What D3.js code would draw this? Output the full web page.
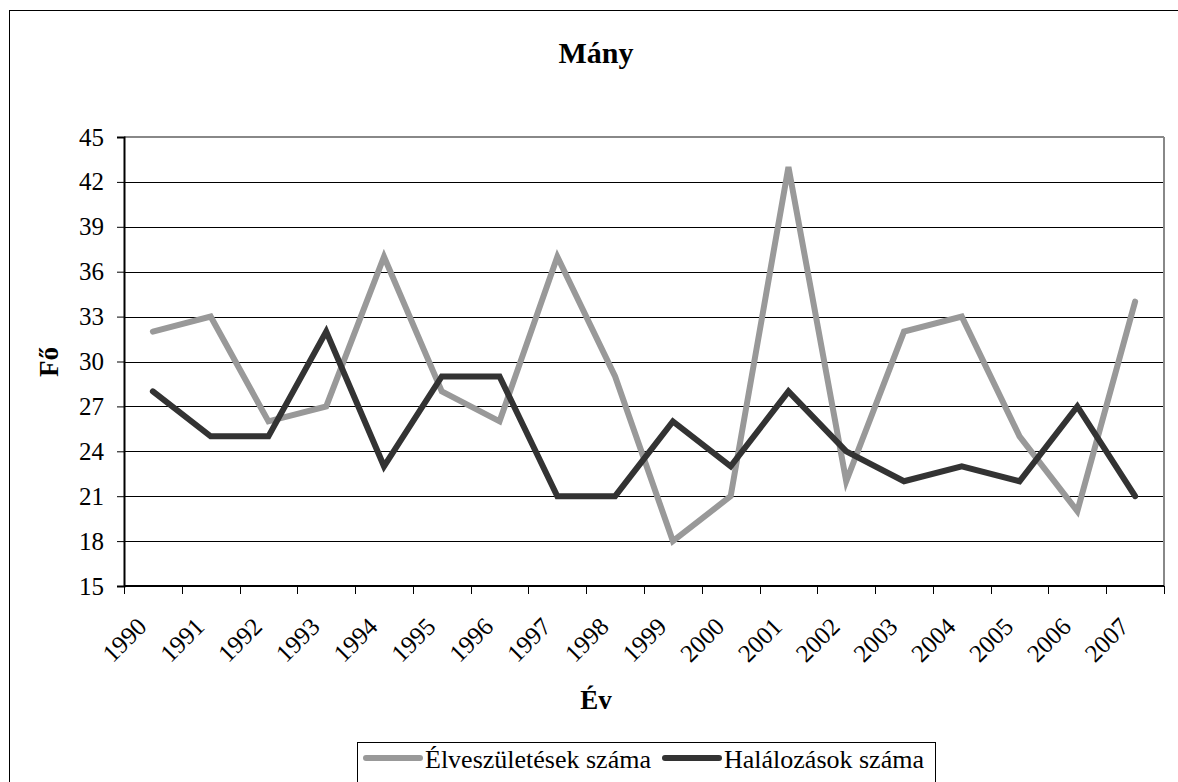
<!DOCTYPE html>
<html><head><meta charset="utf-8">
<script src="https://cdn.jsdelivr.net/npm/d3@7"></script>
<style>body{margin:0;background:#fff}svg{display:block}</style>
</head><body>
<svg id="c" width="1178" height="782"></svg>
<script>
const years = ["1990","1991","1992","1993","1994","1995","1996","1997","1998","1999","2000","2001","2002","2003","2004","2005","2006","2007"];
const births = [32,33,26,27,37,28,26,37,29,18,21,43,22,32,33,25,20,34];
const deaths = [28,25,25,32,23,29,29,21,21,26,23,28,24,22,23,22,27,21];
const yTicks = [15,18,21,24,27,30,33,36,39,42,45];
const seriesNames = ["Élveszületések száma","Halálozások száma"];
const seriesColors = ["#999999","#333333"];

const FONT = "Liberation Serif";
const svg = d3.select("#c");
const L=124, R=1164, T=137, B=586;
svg.append("rect").attr("x",9.5).attr("y",10.5).attr("width",1200).attr("height",800).attr("fill","none").attr("stroke","#000").attr("stroke-width",1);

const x = d3.scaleBand().domain(years).range([L,R]).padding(0);
const y = d3.scaleLinear().domain([15,45]).range([B,T]);

svg.append("g").selectAll("line").data(yTicks.slice(1,-1)).join("line")
  .attr("x1",L).attr("x2",R).attr("y1",d=>Math.round(y(d))+0.5).attr("y2",d=>Math.round(y(d))+0.5)
  .attr("stroke","#000").attr("stroke-width",1);
svg.append("line").attr("x1",L).attr("x2",R).attr("y1",T).attr("y2",T).attr("stroke","#888").attr("stroke-width",2);
svg.append("line").attr("x1",R).attr("x2",R).attr("y1",T).attr("y2",B).attr("stroke","#888").attr("stroke-width",2);

const ya = svg.append("g").attr("transform",`translate(${L},0)`)
  .call(d3.axisLeft(y).tickValues(yTicks).tickSize(7).tickPadding(13));
ya.attr("font-family",FONT);
ya.select(".domain").attr("stroke","#000").attr("stroke-width",2);
ya.selectAll(".tick line").attr("stroke","#000");
ya.selectAll("text").attr("font-size",25).attr("fill","#000").attr("font-family",FONT);

const xa = svg.append("g").attr("transform",`translate(0,${B})`);
xa.append("line").attr("x1",L).attr("x2",R).attr("y1",0).attr("y2",0).attr("stroke","#000").attr("stroke-width",2);
const bounds = years.map(d=>x(d)).concat([R]);
xa.selectAll("line.t").data(bounds).join("line").attr("class","t")
  .attr("x1",d=>Math.round(d)+0.5).attr("x2",d=>Math.round(d)+0.5).attr("y1",0).attr("y2",8).attr("stroke","#000");
xa.selectAll("text").data(years).join("text")
  .attr("transform",d=>`translate(${x(d)+x.bandwidth()/2-11},${36}) rotate(-45)`)
  .attr("text-anchor","end").attr("dy","0.35em").attr("font-size",25).attr("font-family",FONT).text(d=>d);

const line = d3.line().x((d,i)=>x(years[i])+x.bandwidth()/2).y(d=>y(d));
[births,deaths].forEach((s,k)=>{
  svg.append("path").datum(s).attr("d",line).attr("fill","none")
    .attr("stroke",seriesColors[k]).attr("stroke-width",6).attr("stroke-linejoin","miter").attr("stroke-linecap","round");
});

svg.append("text").attr("x",596).attr("y",63).attr("text-anchor","middle").attr("font-size",30).attr("font-weight","bold").attr("font-family",FONT).text("Mány");
svg.append("text").attr("transform","translate(58,362) rotate(-90)").attr("text-anchor","middle").attr("font-size",27).attr("font-weight","bold").attr("font-family",FONT).text("Fő");
svg.append("text").attr("x",596).attr("y",709).attr("text-anchor","middle").attr("font-size",27).attr("font-weight","bold").attr("font-family",FONT).text("Év");

const lg = svg.append("g");
lg.append("rect").attr("x",357.5).attr("y",742.5).attr("width",578).attr("height",60).attr("fill","#fff").attr("stroke","#000");
const legX = [363, 662];
seriesNames.forEach((n,k)=>{
  lg.append("line").attr("x1",legX[k]+3).attr("x2",legX[k]+57).attr("y1",758).attr("y2",758)
    .attr("stroke",seriesColors[k]).attr("stroke-width",6).attr("stroke-linecap","round");
  lg.append("text").attr("x",legX[k]+62).attr("y",768).attr("font-size",26).attr("font-family",FONT).text(n);
});
</script>
</body></html>
